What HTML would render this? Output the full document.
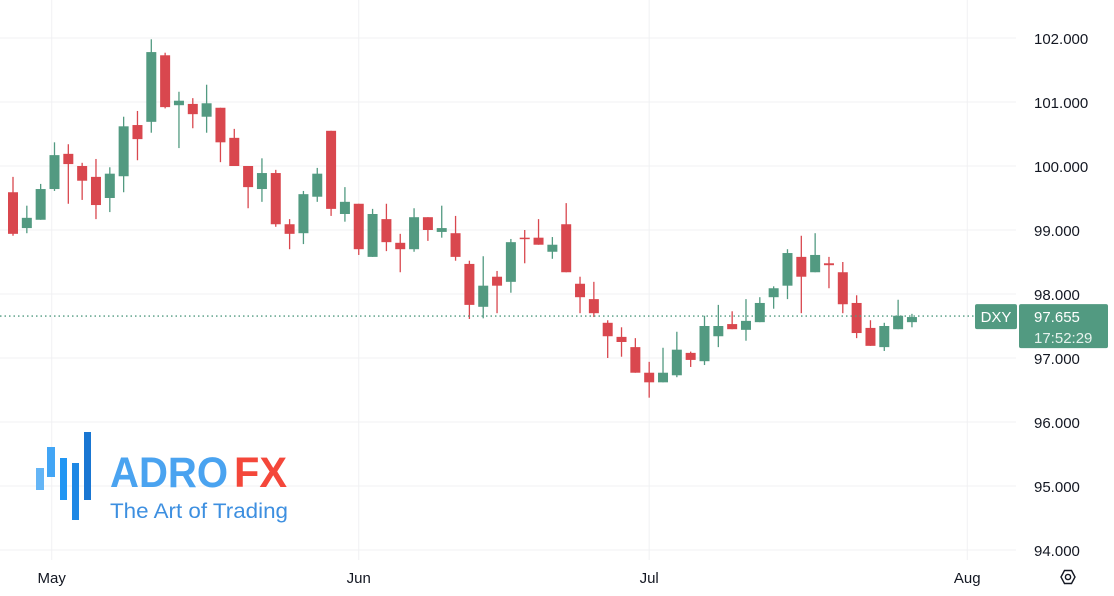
<!DOCTYPE html>
<html><head><meta charset="utf-8"><style>
html,body{margin:0;padding:0;background:#fff;width:1114px;height:596px;overflow:hidden;font-family:"Liberation Sans",sans-serif}
</style></head><body>
<svg id="chart" width="1114" height="596" xmlns="http://www.w3.org/2000/svg" font-family="Liberation Sans, sans-serif">
<g id="grid"></g>
<g id="logo">
<rect x="36" y="468" width="8" height="22" fill="#64b5f6"/>
<rect x="47" y="447" width="8" height="30" fill="#42a5f5"/>
<rect x="60" y="458" width="7" height="42" fill="#2196f3"/>
<rect x="72" y="463" width="7" height="57" fill="#1e88e5"/>
<rect x="84" y="432" width="7" height="68" fill="#1976d2"/>
<text x="110" y="487" font-size="43" font-weight="bold" fill="#4aa3f0" textLength="118" lengthAdjust="spacingAndGlyphs">ADRO</text>
<text x="234" y="487" font-size="43" font-weight="bold" fill="#f4473a" textLength="53" lengthAdjust="spacingAndGlyphs">FX</text>
<text x="110" y="518" font-size="21.5" fill="#3d8fe0" textLength="178" lengthAdjust="spacingAndGlyphs">The Art of Trading</text>
</g>
<g id="candles"></g>
<g id="axes"></g>
</svg>
<script>
const opens  =[99.59,99.03,99.16,99.64,100.19,100.0,99.83,99.5,99.84,100.64,100.69,101.73,100.95,100.97,100.77,100.91,100.44,100.0,99.64,99.89,99.09,98.95,99.52,100.55,99.25,99.41,98.58,99.17,98.80,98.70,99.20,98.97,98.95,98.47,97.80,98.27,98.19,98.88,98.88,98.66,99.09,98.16,97.92,97.55,97.33,97.17,96.77,96.62,96.73,97.08,96.95,97.34,97.53,97.44,97.56,97.95,98.13,98.58,98.34,98.48,98.34,97.86,97.47,97.17,97.45,97.56];
const closes =[98.94,99.19,99.64,100.17,100.03,99.77,99.39,99.88,100.62,100.42,101.78,100.92,101.02,100.81,100.98,100.37,100.0,99.67,99.89,99.09,98.94,99.56,99.88,99.33,99.44,98.70,99.25,98.81,98.70,99.20,99.0,99.03,98.58,97.83,98.13,98.13,98.81,98.86,98.77,98.77,98.34,97.95,97.70,97.34,97.25,96.77,96.62,96.77,97.13,96.97,97.50,97.50,97.45,97.58,97.86,98.09,98.64,98.27,98.61,98.45,97.84,97.39,97.19,97.50,97.66,97.64];
const highs  =[99.83,99.38,99.72,100.37,100.34,100.05,100.11,99.98,100.77,100.86,101.98,101.77,101.16,101.06,101.27,100.91,100.58,100.0,100.12,99.94,99.17,99.61,99.97,100.55,99.67,99.41,99.33,99.41,98.94,99.34,99.20,99.38,99.22,98.52,98.59,98.36,98.86,99.0,99.17,98.89,99.42,98.27,98.19,97.59,97.48,97.31,96.94,97.16,97.41,97.10,97.66,97.83,97.73,97.92,97.95,98.12,98.70,98.91,98.95,98.58,98.50,97.98,97.59,97.55,97.91,97.69];
const lows   =[98.91,98.95,99.16,99.61,99.41,99.47,99.17,99.28,99.59,100.09,100.52,100.90,100.28,100.59,100.52,100.06,100.0,99.34,99.44,99.05,98.70,98.78,99.44,99.22,99.13,98.61,98.58,98.67,98.34,98.66,98.83,98.88,98.52,97.61,97.62,97.70,98.02,98.48,98.77,98.55,98.34,97.70,97.64,97.0,97.02,96.77,96.38,96.62,96.70,96.86,96.89,97.17,97.45,97.27,97.56,97.77,97.92,97.70,98.34,98.09,97.70,97.31,97.19,97.11,97.45,97.48];
const priceTicks=[102,101,100,99,98,97,96,95,94];
const monthLabels=["May","Jun","Jul","Aug"];
const monthIndex=[2.8,25,46,69];
const lastPrice=97.655;

const NS="http://www.w3.org/2000/svg";
function y(v){return 38+(102-v)*64;}
function x(i){return 13+i*13.83;}
function mk(tag,attrs,parent){const e=document.createElementNS(NS,tag);for(const k in attrs)e.setAttribute(k,attrs[k]);parent.appendChild(e);return e;}
const grid=document.getElementById('grid'),cg=document.getElementById('candles'),ax=document.getElementById('axes');
priceTicks.forEach(p=>{
  const l=mk('line',{x1:0,x2:1016,y1:y(p),y2:y(p),stroke:'#f0f1f3','stroke-width':1},grid);
  
  
  const t=mk('text',{x:1034,y:y(p)+6,'font-size':15,fill:'#131722'},ax);
  t.textContent=p.toFixed(3);
  
  
});
monthLabels.forEach((m,i)=>{
  const xx=x(monthIndex[i]);
  const l=mk('line',{x1:xx,x2:xx,y1:0,y2:560,stroke:'#f0f1f3','stroke-width':1},grid);
  
  
  const t=mk('text',{x:xx,y:583,'font-size':15,fill:'#131722','text-anchor':'middle'},ax);
  t.textContent=m;
  
  
});
opens.forEach((o,i)=>{
  const c=closes[i],up=c>=o,col=up?'#529a81':'#d9474e';
  const g=mk('g',{},cg);
  
  
  mk('line',{x1:x(i),x2:x(i),y1:y(highs[i]),y2:y(lows[i]),stroke:col,'stroke-width':1.3},g);
  const top=y(Math.max(o,c)),h=Math.max(1.5,Math.abs(y(o)-y(c)));
  mk('rect',{x:x(i)-5,y:top,width:10,height:h,fill:col},g);
});
const pl=mk('line',{x1:0,x2:1016,y1:y(lastPrice),y2:y(lastPrice),stroke:'#529a81','stroke-width':1.3,'stroke-dasharray':'1.5 3'},ax);


const db=mk('rect',{x:975,y:y(lastPrice)-12,width:42,height:25,rx:2,fill:'#529a81'},ax);


const dt=mk('text',{x:996,y:y(lastPrice)+6,'font-size':15,fill:'#fff','text-anchor':'middle'},ax);
dt.textContent='DXY';


const pb=mk('rect',{x:1019,y:y(lastPrice)-12,width:89,height:44,rx:2,fill:'#529a81'},ax);


const pt=mk('text',{x:1034,y:y(lastPrice)+6,'font-size':15,fill:'#fff'},ax);
pt.textContent=lastPrice.toFixed(3);


const ct=mk('text',{x:1034,y:y(lastPrice)+27,'font-size':15,fill:'#e6f2ed'},ax);
ct.textContent='17:52:29';


const hex=mk('polygon',{points:'1061,577 1064.5,570.5 1071.5,570.5 1075,577 1071.5,583.5 1064.5,583.5',fill:'none',stroke:'#131722','stroke-width':1.4},ax);


mk('circle',{cx:1068,cy:577,r:2.6,fill:'none',stroke:'#131722','stroke-width':1.4},ax);
</script>
</body></html>
